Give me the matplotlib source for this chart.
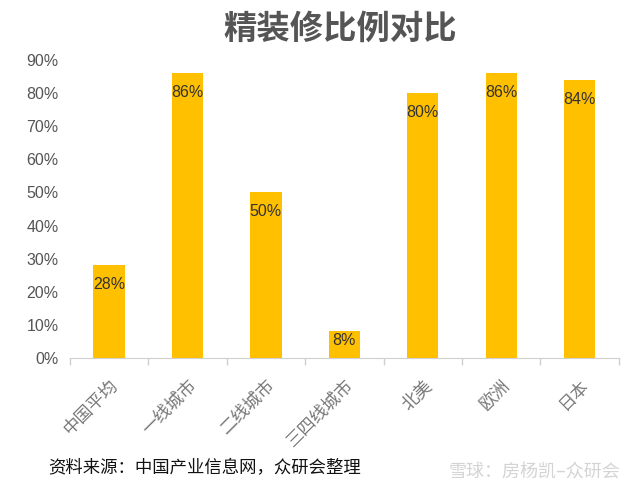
import matplotlib
matplotlib.use("Agg")
import matplotlib.pyplot as plt
import numpy as np

categories = ["中国平均", "一线城市", "二线城市", "三四线城市", "北美", "欧洲", "日本"]
values = [0.28, 0.86, 0.50, 0.08, 0.80, 0.86, 0.84]
labels = ["28%", "86%", "50%", "8%", "80%", "86%", "84%"]
yticks = [0, 0.1, 0.2, 0.3, 0.4, 0.5, 0.6, 0.7, 0.8, 0.9]
ytick_labels = ["0%", "10%", "20%", "30%", "40%", "50%", "60%", "70%", "80%", "90%"]

plt.rcParams['font.family'] = ['Noto Sans CJK SC', 'DejaVu Sans']

fig = plt.figure(figsize=(6.4, 4.95), dpi=100)
ax = fig.add_axes([0.109, 0.2768, 0.858, 0.6020])

x = np.arange(len(categories))
ax.bar(x, values, width=0.4, color="#FFC000", zorder=2)

for xi, v, lab in zip(x, values, labels):
    off = min(0.058, v * 0.35)
    ax.text(xi, v - off, lab, ha="center", va="center", fontsize=11.5,
            family=["Liberation Sans"], color="#333333", zorder=3)

ax.set_xlim(-0.5, len(categories) - 0.5)
ax.set_ylim(0, 0.9)
ax.set_yticks(yticks)
ax.set_yticklabels(ytick_labels, family=["Liberation Sans"], fontsize=11.5, color="#555555")
ax.tick_params(axis="y", length=0, pad=8)

ax.set_xticks(x)
ax.set_xticklabels(categories, rotation=45, ha="right", rotation_mode="anchor",
                   fontsize=12.5, color="#777777", fontweight="light")
ax.tick_params(axis="x", length=0, pad=13)
ax.set_xticks(np.arange(-0.5, len(categories), 1.0), minor=True)
ax.tick_params(axis="x", which="minor", length=5, color="#d0d0d0", width=1)

for s in ["top", "right", "left"]:
    ax.spines[s].set_visible(False)
ax.spines["bottom"].set_color("#d0d0d0")

fig.text(0.531, 0.94, "精装修比例对比", ha="center", va="center", fontsize=24,
         color="#555555", fontweight="bold")
fig.text(0.075, 0.054, "资料来源：中国产业信息网，众研会整理", ha="left", va="center",
         fontsize=12.5, color="#111111")
fig.text(0.97, 0.046, "雪球：房杨凯–众研会", ha="right", va="center",
         fontsize=13, color="#d4d4d4")

fig.savefig("out.png", dpi=100)
